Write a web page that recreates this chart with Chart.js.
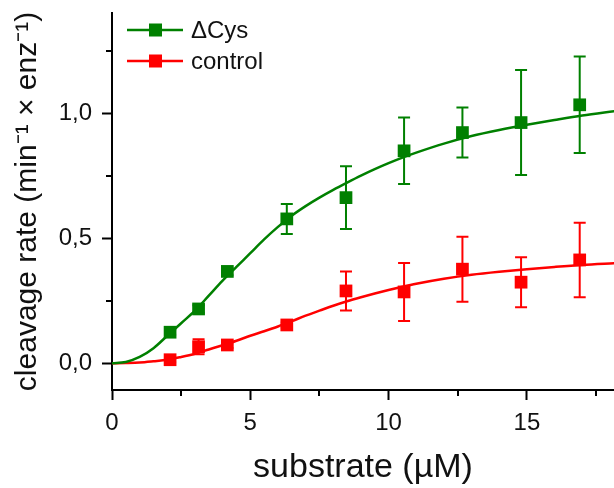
<!DOCTYPE html>
<html><head><meta charset="utf-8">
<script src="https://cdn.jsdelivr.net/npm/chart.js@4/dist/chart.umd.min.js"></script>
<style>html,body{margin:0;padding:0;background:#fff}#wrap{width:614px;height:488px;position:relative}</style>
</head><body><div id="wrap"><canvas id="c" width="614" height="488"></canvas></div>
<script>
// ---- data ----
const seriesNames = ['\u0394Cys', 'control'];
const xTickValues = [0, 5, 10, 15];
const yTickValues = [0, 0.5, 1.0];
const xMinorTicks = [2.5, 7.5, 12.5, 17.5];
const yMinorTicks = [0.25, 0.75, 1.25];

const substrate = [2.1, 3.13, 4.17, 6.32, 8.46, 10.56, 12.67, 14.79, 16.91];
const cysRate = [0.124, 0.217, 0.367, 0.577, 0.662, 0.849, 0.922, 0.962, 1.033];
const cysErr = [0.01, 0.015, 0.015, 0.06, 0.125, 0.133, 0.1, 0.21, 0.193];
const ctrlRate = [0.014, 0.066, 0.073, 0.153, 0.289, 0.285, 0.376, 0.324, 0.413];
const ctrlErr = [0.01, 0.03, 0.012, 0.01, 0.078, 0.116, 0.13, 0.1, 0.149];

const fitX = [0, 0.5, 1, 1.5, 2, 2.5, 3, 3.5, 4, 4.5, 5, 5.5, 6, 6.5, 7, 7.5, 8, 8.5, 9, 9.5, 10, 10.5, 11, 12, 13, 14, 15, 16, 17, 18.2];
const cysFit = [0, 0.005, 0.025, 0.06, 0.11, 0.16, 0.21, 0.27, 0.33, 0.385, 0.44, 0.495, 0.545, 0.59, 0.628, 0.662, 0.693, 0.722, 0.75, 0.776, 0.80, 0.822, 0.842, 0.878, 0.908, 0.932, 0.953, 0.972, 0.99, 1.008];
const ctrlFit = [0, 0.001, 0.003, 0.008, 0.014, 0.025, 0.038, 0.055, 0.072, 0.09, 0.11, 0.128, 0.147, 0.168, 0.19, 0.21, 0.23, 0.248, 0.264, 0.279, 0.293, 0.306, 0.318, 0.338, 0.354, 0.366, 0.376, 0.385, 0.393, 0.40];

const GREEN = '#008000', RED = '#ff0000';
const FONT = '"Liberation Sans", Arial, sans-serif';

const pts = (xs, ys) => xs.map((x, i) => ({x, y: ys[i]}));

const errorBars = {
  id: 'errorBars',
  beforeDatasetsDraw(chart) {
    const ctx = chart.ctx, xs = chart.scales.x, ys = chart.scales.y;
    const sets = [[cysRate, cysErr, GREEN], [ctrlRate, ctrlErr, RED]];
    ctx.save();
    ctx.lineWidth = 2;
    sets.forEach(([vals, errs, col]) => {
      ctx.strokeStyle = col;
      substrate.forEach((x, i) => {
        const px = xs.getPixelForValue(x);
        const top = ys.getPixelForValue(vals[i] + errs[i]);
        const bot = ys.getPixelForValue(vals[i] - errs[i]);
        ctx.beginPath();
        ctx.moveTo(px, top); ctx.lineTo(px, bot);
        ctx.moveTo(px - 6, top); ctx.lineTo(px + 6, top);
        ctx.moveTo(px - 6, bot); ctx.lineTo(px + 6, bot);
        ctx.stroke();
      });
    });
    ctx.restore();
  }
};

const minorTicks = {
  id: 'minorTicks',
  afterDraw(chart) {
    const ctx = chart.ctx, xs = chart.scales.x, ys = chart.scales.y, a = chart.chartArea;
    ctx.save();
    ctx.strokeStyle = '#000'; ctx.lineWidth = 2;
    xMinorTicks.forEach(v => {
      const px = Math.round(xs.getPixelForValue(v));
      ctx.beginPath(); ctx.moveTo(px, a.bottom); ctx.lineTo(px, a.bottom + 6); ctx.stroke();
    });
    yMinorTicks.forEach(v => {
      const py = Math.round(ys.getPixelForValue(v));
      ctx.beginPath(); ctx.moveTo(a.left, py); ctx.lineTo(a.left - 6, py); ctx.stroke();
    });
    ctx.restore();
  }
};

const legendBox = {
  id: 'legendBox',
  afterDraw(chart) {
    const ctx = chart.ctx;
    const cols = [GREEN, RED];
    ctx.save();
    ctx.font = '24px ' + FONT;
    ctx.textBaseline = 'middle';
    seriesNames.forEach((name, i) => {
      const y = 30 + i * 31;
      ctx.strokeStyle = cols[i]; ctx.lineWidth = 2.5;
      ctx.beginPath(); ctx.moveTo(127, y); ctx.lineTo(183, y); ctx.stroke();
      ctx.fillStyle = cols[i];
      ctx.fillRect(149, y - 6.5, 13, 13);
      ctx.fillStyle = '#111';
      ctx.fillText(name, 191, y + 1);
    });
    ctx.restore();
  }
};

new Chart(document.getElementById('c'), {
  type: 'scatter',
  data: {
    datasets: [
      {label: seriesNames[0] + ' fit', data: pts(fitX, cysFit), showLine: true, borderColor: GREEN, borderWidth: 2.5, pointRadius: 0, cubicInterpolationMode: 'monotone', order: 3},
      {label: seriesNames[1] + ' fit', data: pts(fitX, ctrlFit), showLine: true, borderColor: RED, borderWidth: 2.5, pointRadius: 0, cubicInterpolationMode: 'monotone', order: 4},
      {label: seriesNames[0], data: pts(substrate, cysRate), showLine: false, pointStyle: 'rect', pointRadius: 9, backgroundColor: GREEN, borderColor: GREEN, borderWidth: 0, order: 1},
      {label: seriesNames[1], data: pts(substrate, ctrlRate), showLine: false, pointStyle: 'rect', pointRadius: 9, backgroundColor: RED, borderColor: RED, borderWidth: 0, order: 2}
    ]
  },
  options: {
    responsive: false,
    animation: false,
    layout: {autoPadding: false, padding: {top: 13, right: 0, left: 0, bottom: 0}},
    plugins: {legend: {display: false}, tooltip: {enabled: false}},
    scales: {
      x: {
        type: 'linear', min: 0, max: 18.15,
        afterBuildTicks: s => { s.ticks = xTickValues.map(v => ({value: v})); },
        afterFit: s => { s.height = 98; s.paddingLeft = 0; s.paddingRight = 0; },
        border: {display: true, color: '#000', width: 2},
        grid: {drawOnChartArea: false, drawTicks: true, tickLength: 10, tickColor: '#000', tickWidth: 2},
        ticks: {color: '#111', font: {family: FONT, size: 24}, padding: 9, maxRotation: 0, callback: v => String(v)},
        title: {display: true, text: 'substrate (\u00b5M)', color: '#111', font: {family: FONT, size: 34}, padding: {top: 0, bottom: 0}}
      },
      y: {
        type: 'linear', min: -0.107, max: 1.4,
        afterBuildTicks: s => { s.ticks = yTickValues.map(v => ({value: v})); },
        afterFit: s => { s.width = 112; s.paddingTop = 0; s.paddingBottom = 0; },
        border: {display: true, color: '#000', width: 2},
        grid: {drawOnChartArea: false, drawTicks: true, tickLength: 10, tickColor: '#000', tickWidth: 2},
        ticks: {color: '#111', font: {family: FONT, size: 24}, padding: 10, callback: v => v.toFixed(1).replace('.', ',')},
        title: {display: true, text: 'cleavage rate (min\u207b\u00b9 \u00d7 enz\u207b\u00b9)', color: '#111', font: {family: FONT, size: 30}, padding: {top: 10, bottom: 0}}
      }
    }
  },
  plugins: [errorBars, minorTicks, legendBox]
});
</script></body></html>
